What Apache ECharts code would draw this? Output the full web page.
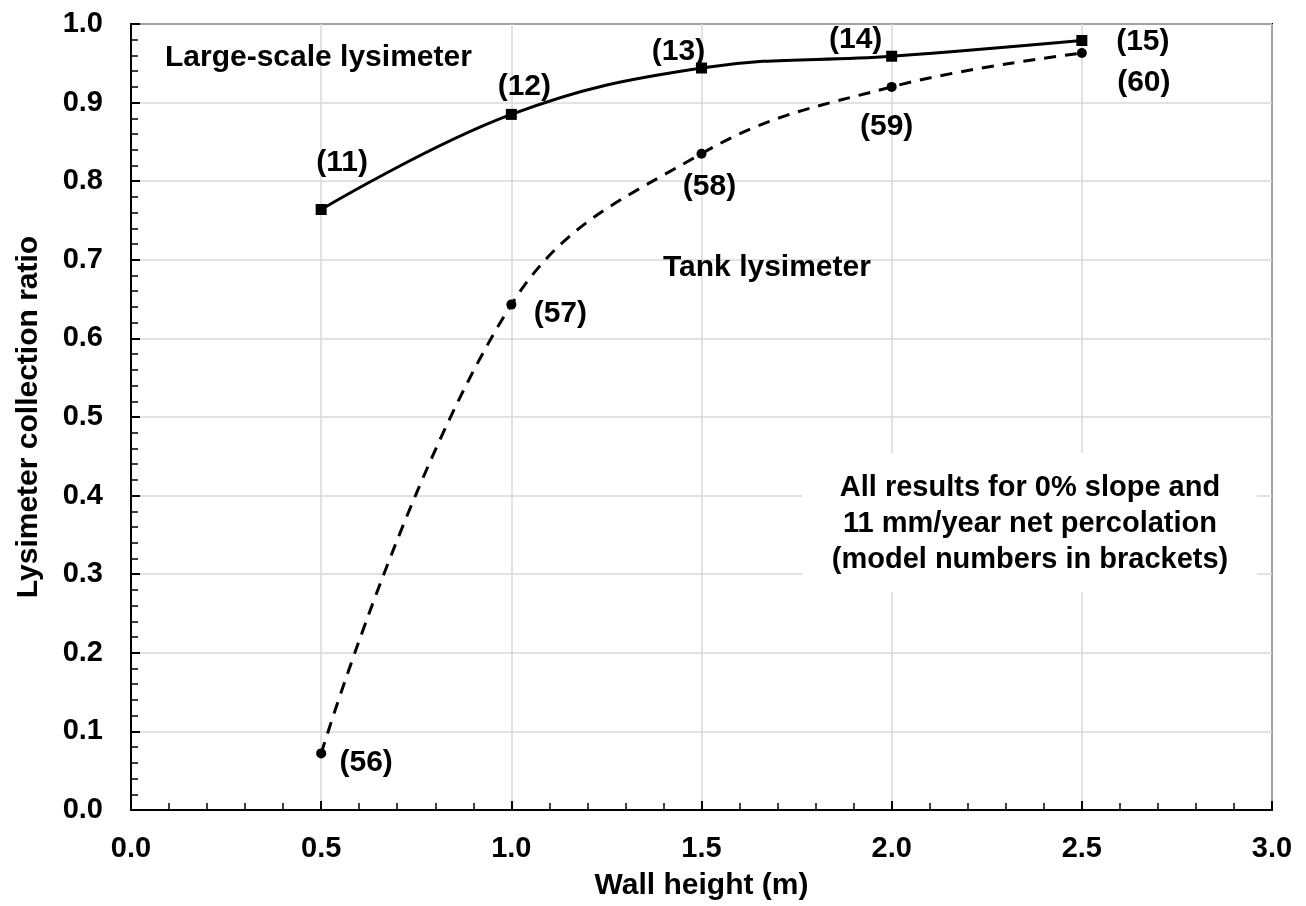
<!DOCTYPE html>
<html>
<head>
<meta charset="utf-8">
<script src="https://cdn.jsdelivr.net/npm/echarts@6/dist/echarts.min.js"></script>
<style>
html,body{margin:0;padding:0;background:#fff;}
#chart{width:1306px;height:906px;}
</style>
</head>
<body>
<div id="chart"></div>
<script>
// ---- data ----
const wallHeights = [0.5, 1.0, 1.5, 2.0, 2.5];
const largeScaleRatio = [0.764, 0.885, 0.944, 0.959, 0.979];
const tankRatio = [0.072, 0.643, 0.835, 0.920, 0.963];
const largeScaleModels = ['(11)', '(12)', '(13)', '(14)', '(15)'];
const tankModels = ['(56)', '(57)', '(58)', '(59)', '(60)'];
const xTickLabels = ['0.0', '0.5', '1.0', '1.5', '2.0', '2.5', '3.0'];

// label offsets (style only)
const largeOffsets = [[21, -47], [13, -28], [-23, -16], [-36, -16], [61, 1]];
const tankOffsets = [[45, 9], [49, 9], [8, 33], [-5, 40], [62, 30]];

const FONT = '"Liberation Sans", Arial, Helvetica, sans-serif';

function buildData(vals, labels, offsets) {
  return wallHeights.map((x, i) => ({
    value: [x, vals[i]],
    label: { formatter: labels[i], offset: offsets[i] }
  }));
}

const chart = echarts.init(document.getElementById('chart'), null, { renderer: 'canvas' });

const labelStyle = {
  show: true,
  position: 'inside',
  align: 'center',
  verticalAlign: 'middle',
  fontFamily: FONT,
  fontWeight: 'bold',
  fontSize: 30,
  color: '#000'
};

const option = {
  backgroundColor: '#fff',
  animation: false,
  grid: {
    left: 131, right: 34, top: 24, bottom: 95,
    show: true, borderColor: '#000', borderWidth: 2, backgroundColor: 'transparent'
  },
  xAxis: {
    type: 'value', min: 0, max: 3, interval: 0.5,
    name: 'Wall height (m)', nameLocation: 'middle', nameGap: 61,
    nameTextStyle: { fontFamily: FONT, fontWeight: 'bold', fontSize: 30, color: '#000' },
    axisLine: { show: true, lineStyle: { color: '#000', width: 2 } },
    axisTick: { show: true, inside: true, length: 9, lineStyle: { color: '#000', width: 2 } },
    minorTick: { show: true, splitNumber: 5, length: 7, lineStyle: { color: '#000', width: 1.5 } },
    axisLabel: {
      margin: 24, fontFamily: FONT, fontWeight: 'bold', fontSize: 29, color: '#000',
      formatter: (v) => xTickLabels[Math.round(v / 0.5)]
    },
    splitLine: { show: true, lineStyle: { color: '#d9d9d9', width: 1.5 } }
  },
  yAxis: {
    type: 'value', min: 0, max: 1, interval: 0.1,
    name: 'Lysimeter collection ratio', nameLocation: 'middle', nameGap: 87, nameRotate: 90,
    nameTextStyle: { fontFamily: FONT, fontWeight: 'bold', fontSize: 30, color: '#000' },
    axisLine: { show: true, lineStyle: { color: '#000', width: 2 } },
    axisTick: { show: true, inside: true, length: 9, lineStyle: { color: '#000', width: 2 } },
    minorTick: { show: true, splitNumber: 5, length: 7, lineStyle: { color: '#000', width: 1.5 } },
    axisLabel: {
      margin: 28, fontFamily: FONT, fontWeight: 'bold', fontSize: 29, color: '#000',
      formatter: (v) => v.toFixed(1)
    },
    splitLine: { show: true, lineStyle: { color: '#d9d9d9', width: 1.5 } }
  },
  series: [
    {
      name: 'Large-scale lysimeter',
      type: 'line',
      smooth: 0.4,
      symbol: 'rect', symbolSize: 11,
      itemStyle: { color: '#000' },
      lineStyle: { color: '#000', width: 3, type: 'solid' },
      label: labelStyle,
      data: buildData(largeScaleRatio, largeScaleModels, largeOffsets),
      z: 3
    },
    {
      name: 'Tank lysimeter',
      type: 'line',
      smooth: 0.4,
      symbol: 'circle', symbolSize: 10,
      itemStyle: { color: '#000' },
      lineStyle: { color: '#000', width: 3, type: [12, 9] },
      label: labelStyle,
      data: buildData(tankRatio, tankModels, tankOffsets),
      z: 3
    }
  ],
  graphic: [
    {
      type: 'text', left: 165, top: 43, z: 10,
      style: { text: 'Large-scale lysimeter', font: 'bold 30px ' + FONT, fill: '#000' }
    },
    {
      type: 'text', left: 663, top: 253, z: 10,
      style: { text: 'Tank lysimeter', font: 'bold 30px ' + FONT, fill: '#000' }
    },
    {
      type: 'rect', z: 9,
      shape: { x: 802, y: 453, width: 455, height: 139 },
      style: { fill: '#fff' }
    },
    {
      type: 'text', z: 10,
      x: 1030, y: 524,
      style: {
        text: 'All results for 0% slope and\n11 mm/year net percolation\n(model numbers in brackets)',
        font: 'bold 29px ' + FONT, fill: '#000',
        align: 'center', verticalAlign: 'middle', lineHeight: 36
      }
    }
  ]
};

chart.setOption(option);
</script>
</body>
</html>
